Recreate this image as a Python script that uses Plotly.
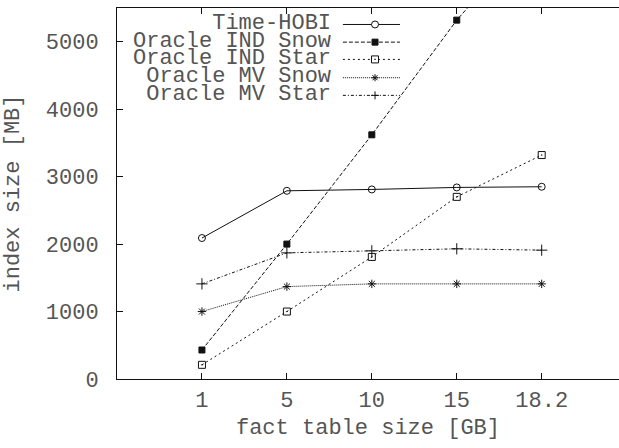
import plotly.graph_objects as go

categories = ["1", "5", "10", "15", "18.2"]
time_hobi = [2090, 2790, 2810, 2840, 2850]
ind_snow = [430, 2000, 3620, 5320, 6750]
ind_star = [210, 1000, 1810, 2700, 3320]
mv_snow = [1000, 1370, 1410, 1410, 1410]
mv_star = [1410, 1870, 1900, 1930, 1910]
y_ticks = [0, 1000, 2000, 3000, 4000, 5000]

FONT = "Liberation Mono"
TXT = "#555555"
INK = "#111111"
FS = 22

series = [
    ("Time-HOBI", time_hobi, "solid", "circle-open", 7),
    ("Oracle IND Snow", ind_snow, "4px,2px", "square", 6),
    ("Oracle IND Star", ind_star, "2px,3px", "square-open-dot", 7),
    ("Oracle MV Snow", mv_snow, "1px,1px", "asterisk-open", 7),
    ("Oracle MV Star", mv_star, "3px,2px,1px,2px", "cross-thin-open", 8),
]

fig = go.Figure()
for name, vals, dash, sym, size in series:
    fig.add_trace(go.Scatter(
        x=categories, y=vals, name=name, mode="lines+markers",
        line=dict(color=INK, width=1, dash=dash),
        marker=dict(symbol=sym, size=size, color=INK, line=dict(color=INK, width=1)),
        showlegend=False, cliponaxis=True,
    ))

# custom gnuplot-style legend (text right, sample left)
row_y = [0.9556, 0.908, 0.8614, 0.812, 0.7645]
tx, lx0, lx1, mx = 0.4303, 0.450, 0.5637, 0.514
shapes = []
legend_text = "<br>".join(
    '<span style="font-size:%dpx">%s</span>' % (FS, s[0]) for s in series)
annotations = [dict(xref="paper", yref="paper", x=tx, y=0.8614, text=legend_text,
                    showarrow=False, xanchor="right", yanchor="middle", align="right",
                    font=dict(family=FONT, size=13.6, color=TXT))]
for (name, vals, dash, sym, size), yy in zip(series, row_y):
    shapes.append(dict(type="line", xref="paper", yref="paper", x0=lx0, x1=lx1, y0=yy, y1=yy,
                       line=dict(color=INK, width=1, dash=dash)))
    common = dict(xref="paper", yref="paper", xsizemode="pixel", ysizemode="pixel",
                  xanchor=mx, yanchor=yy)
    if sym == "circle-open":
        shapes.append(dict(type="circle", x0=-3.5, x1=3.5, y0=-3.5, y1=3.5,
                           line=dict(color=INK, width=1), fillcolor="white", **common))
    elif sym == "square":
        shapes.append(dict(type="rect", x0=-3, x1=3, y0=-3, y1=3,
                           line=dict(color=INK, width=1), fillcolor=INK, **common))
    elif sym == "square-open-dot":
        shapes.append(dict(type="rect", x0=-3.5, x1=3.5, y0=-3.5, y1=3.5,
                           line=dict(color=INK, width=1), fillcolor="white", **common))
        shapes.append(dict(type="rect", x0=-0.7, x1=0.7, y0=-0.7, y1=0.7,
                           line=dict(width=0), fillcolor=INK, **common))
    elif sym == "asterisk-open":
        shapes.append(dict(type="path", path="M-3.5,0L3.5,0M0,-3.5L0,3.5M-2.5,-2.5L2.5,2.5M-2.5,2.5L2.5,-2.5",
                           line=dict(color=INK, width=1), **common))
    else:
        shapes.append(dict(type="path", path="M-4,0L4,0M0,-4L0,4",
                           line=dict(color=INK, width=1), **common))

axis_font = dict(family=FONT, size=FS, color=TXT)
fig.update_layout(
    width=619, height=448,
    margin=dict(l=117, r=0, t=8, b=69),
    paper_bgcolor="white", plot_bgcolor="white",
    font=dict(family=FONT, size=FS, color=TXT),
    shapes=shapes, annotations=annotations,
    xaxis=dict(
        type="category", range=[-1, 4.91],
        showgrid=False, zeroline=False,
        showline=True, linecolor=INK, linewidth=1, mirror="ticks",
        ticks="inside", ticklen=6, tickcolor=INK, tickwidth=1,
        tickfont=axis_font, ticklabelstandoff=1,
        title=dict(text="fact table size [GB]", font=axis_font, standoff=5),
    ),
    yaxis=dict(
        range=[0, 5500], tickvals=y_ticks,
        showgrid=False, zeroline=False,
        showline=True, linecolor=INK, linewidth=1, mirror=False,
        ticks="inside", ticklen=6, tickcolor=INK, tickwidth=1,
        tickfont=axis_font, ticklabelstandoff=13,
        title=dict(text="index size [MB]", font=axis_font, standoff=20),
    ),
)

fig.write_html("out.html")
